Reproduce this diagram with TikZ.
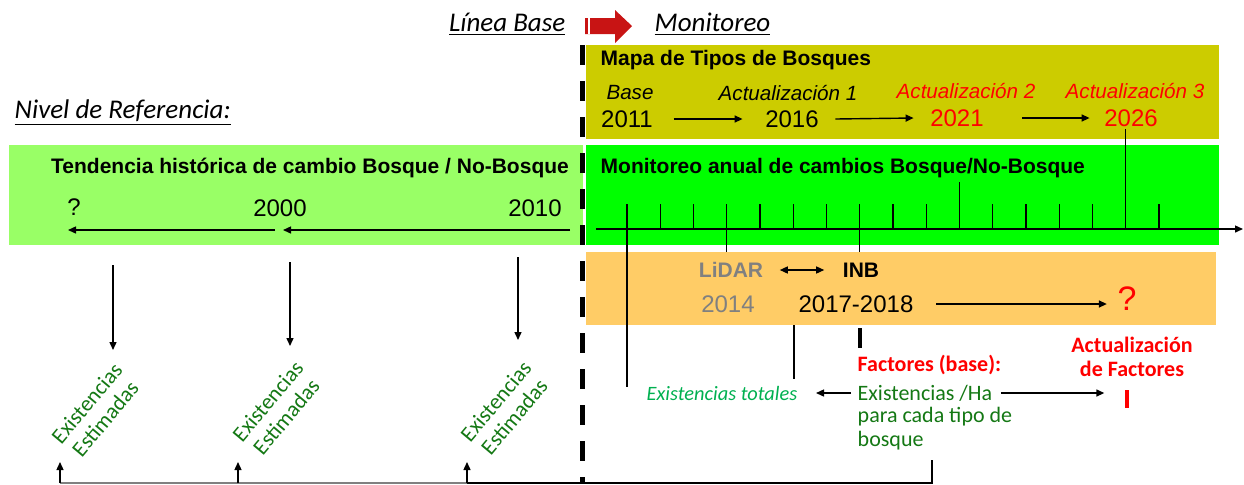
\documentclass[tikz,border=0pt]{standalone}
\usepackage{fontspec}
\setmainfont{Liberation Sans}
\newfontfamily\calibri{Carlito}
\usetikzlibrary{arrows.meta}

\definecolor{olivebox}{RGB}{204,204,0}
\definecolor{greenbox}{RGB}{0,255,0}
\definecolor{lightbox}{RGB}{153,255,102}
\definecolor{orangebox}{RGB}{255,204,102}
\definecolor{estgreen}{RGB}{20,120,20}
\definecolor{totgreen}{RGB}{0,176,80}
\definecolor{basered}{RGB}{200,20,20}

\tikzset{
  panel/.style={inner sep=0pt, anchor=north west},
  hdr/.style={font=\calibri\fontsize{13.5}{16}\selectfont\itshape, inner sep=1pt},
  bhead/.style={font=\fontsize{10.5}{12}\selectfont\bfseries, inner sep=1pt},
  yr/.style={font=\fontsize{12}{14}\selectfont, inner sep=1pt},
  itl/.style={font=\fontsize{10.3}{12}\selectfont\itshape, inner sep=1pt},
  cal/.style={font=\calibri\fontsize{11}{12}\selectfont, inner sep=1pt},
  estim/.style={cal, text=estgreen, align=center, rotate=50},
  arr/.style={-{Triangle[length=4pt,width=3.5pt]}},
  mk/.style={inner sep=0pt, minimum width=2pt, minimum height=10pt},
  basedash/.style={line width=2.5pt, dash pattern=on 10pt off 8pt},
}

\begin{document}
\begin{tikzpicture}[x=0.5pt, y=-0.5pt, line width=0.7pt]
    \useasboundingbox (0,0) rectangle (1244,484);

    % panels
    \node[panel, fill=lightbox, minimum width=287pt, minimum height=50pt] (lg) at (8,144) {};
    \node[panel, fill=olivebox, minimum width=316.5pt, minimum height=47pt] (ol) at (585,44) {};
    \node[panel, fill=greenbox, minimum width=316.5pt, minimum height=50pt] (gr) at (585,144) {};
    \node[panel, fill=orangebox, minimum width=315pt, minimum height=36.5pt] (ob) at (585,251) {};

    % titles
    \node[hdr, anchor=east] (lb) at (568,24) {\underline{Línea Base}};
    \fill[basered] (585,18) -- (615,18) -- (615,10) -- (632,26) -- (615,43) -- (615,34) -- (585,34) -- cycle;
    \draw[white, line width=0.6pt] (589,18) -- (589,34);
    \node[hdr, anchor=west] (mo) at (652,24) {\underline{Monitoreo}};
    \node[hdr, anchor=west] (nr) at (12,113) {\underline{Nivel de Referencia:}};

    % mapa de tipos de bosques
    \node[bhead, anchor=west] (mapa) at (598,60) {Mapa de Tipos de Bosques};
    \node[itl] (b0) at (630,93) {Base};
    \node[yr] (y11) at (627,119) {2011};
    \node[itl] (a1) at (788,93) {Actualización 1};
    \node[yr] (y16) at (792,119) {2016};
    \node[itl, text=red] (a2) at (966,91) {Actualización 2};
    \node[yr, text=red] (y21) at (957,118) {2021};
    \node[itl, text=red] (a3) at (1135,91) {Actualización 3};
    \node[yr, text=red] (y26) at (1131,118) {2026};
    \draw[arr] ([xshift=9pt]y11.east) -- ([xshift=-10pt]y16.west);
    \draw[arr] ([xshift=7pt]y16.east) -- ([xshift=-7pt]y21.west);
    \draw[arr] ([xshift=18pt]y21.east) -- ([xshift=-6pt]y26.west);

    % monitoreo anual
    \node[bhead, anchor=west] (mon) at (598,168) {Monitoreo anual de cambios Bosque/No-Bosque};
    \coordinate (ax0) at (596,229);
    \coordinate (ax1) at (1243,229);
    \draw[arr] (ax0) -- (ax1);
    \foreach \i in {0,...,16}{
        \coordinate (t\i) at ({627+33.25*\i},229);
        \draw (t\i) -- ++(0,-25);
    }
    \draw (t10) -- ++(0,-47);
    \draw (t15) -- (t15 |- y26.south);
    \draw (t0) -- ++(0,158);
    \draw (t3) -- ++(0,23);
    \draw (t7) -- ++(0,23);

    % LiDAR / INB
    \node[bhead, text=gray] (lidar) at (731,270) {LiDAR};
    \node[bhead] (inb) at (861,270) {INB};
    \draw[{Triangle[length=4pt,width=3.5pt]}-{Triangle[length=4pt,width=3.5pt]}]
        ([xshift=7pt]lidar.east) -- ([xshift=-8pt]inb.west);
    \node[yr, text=gray] (y14) at (728,304) {2014};
    \node[yr] (y1718) at (856,304) {2017-2018};
    \node[yr, text=red, font=\fontsize{17}{19}\selectfont] (qm) at (1127,299) {?};
    \draw[arr] ([xshift=10pt]y1718.east) -- ([xshift=-4pt]y1718.east -| qm.west);

    % factores
    \node[mk, fill=black] (bmark) at (860,338) {};
    \node[cal, font=\calibri\fontsize{11}{12}\selectfont\bfseries, text=red, anchor=west] (fac) at (855,365) {Factores (base):};
    \node[cal, text=estgreen, anchor=west] (exha) at (855,393) {Existencias /Ha};
    \node[cal, text=estgreen, anchor=north west, align=left] (pct) at (855,405) {para cada tipo de\\bosque};
    \node[cal, font=\calibri\fontsize{10.2}{12}\selectfont\itshape, text=totgreen, anchor=east] (et) at (800,393) {Existencias totales};
    \node[cal, font=\calibri\fontsize{11}{12}\selectfont\bfseries, text=red, align=center] (af) at (1132,357) {Actualización\\de Factores};
    \node[mk, fill=red, minimum height=9pt] (rmark) at (1127,399) {};
    \draw[arr] ([xshift=-2pt]exha.west) -- ([xshift=8pt]et.east);
    \draw[arr] ([xshift=3pt]exha.east) -- ([xshift=-10pt]exha.east -| rmark.west);
    \draw ([xshift=-1pt]y1718.west |- ob.south) -- ++(0,54);

    % tendencia historica
    \node[bhead] (tend) at (310,168) {Tendencia histórica de cambio Bosque / No-Bosque};
    \node[yr] (q) at (74,207) {?};
    \node[yr] (y00) at (280,208) {2000};
    \node[yr] (y10) at (535,208) {2010};
    \coordinate (h10) at (570,230);
    \coordinate (h00) at (279,230);
    \coordinate (hq) at (68,230);
    \draw[arr] (h10) -- ([xshift=2pt]h00);
    \draw[arr] ([xshift=-2pt]h00) -- (hq);

    % existencias estimadas
    \node[estim] (ee1) at (96,411) {Existencias\\Estimadas};
    \node[estim] (ee2) at (277,409) {Existencias\\Estimadas};
    \node[estim] (ee3) at (505,409) {Existencias\\Estimadas};
    \draw[arr] (113,265) -- ++(0,85);
    \draw[arr] (290,262) -- ++(0,84);
    \draw[arr] (518,257) -- ++(0,83);

    % retorno
    \coordinate (bt) at (932,460);
    \coordinate (u1) at (60,483);
    \coordinate (u2) at (238,483);
    \coordinate (u3) at (467,483);
    \draw (bt) |- (u3);
    \draw[gray] (u3) -- (u1);
    \foreach \u in {u1,u2,u3}
        \draw[arr] (\u) -- ++(0,-21);

    % linea base
    \draw[basedash] (582,45) -- (582,484);
\end{tikzpicture}
\end{document}
